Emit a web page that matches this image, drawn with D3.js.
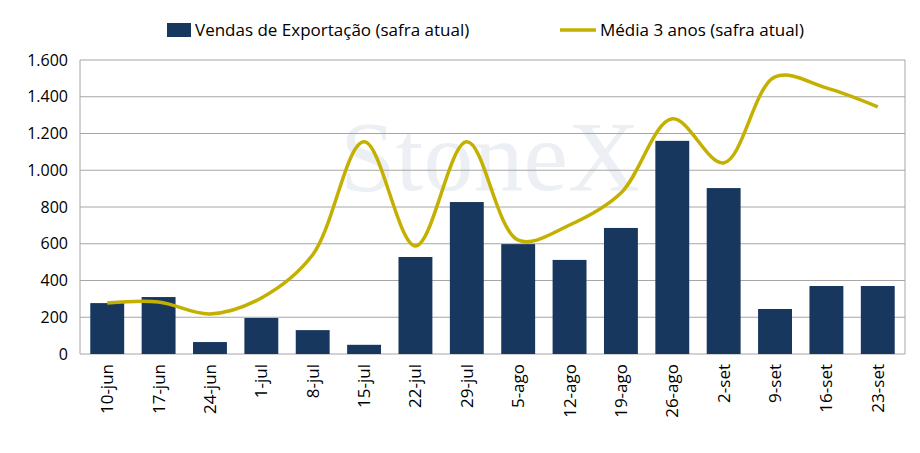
<!DOCTYPE html>
<html><head><meta charset="utf-8">
<script src="https://cdn.jsdelivr.net/npm/d3@7"></script>
<style>body{margin:0;background:#fff}</style>
</head><body>
<div id="chart"></div>
<script>
const categories = ["10-jun","17-jun","24-jun","1-jul","8-jul","15-jul","22-jul","29-jul","5-ago","12-ago","19-ago","26-ago","2-set","9-set","16-set","23-set"];
const vendas = [277, 310, 65, 196, 130, 50, 528, 827, 598, 512, 686, 1160, 903, 245, 370, 370];
const media3 = [277, 283, 218, 305, 540, 1155, 588, 1155, 620, 702, 876, 1280, 1040, 1508, 1448, 1345];
const yTicks = [0, 200, 400, 600, 800, 1000, 1200, 1400, 1600];

const width = 920, height = 453;
const margin = {left: 80, right: 15, top: 60, bottom: 99};
const fmt = d3.format(",");
const ptBR = d => fmt(d).replace(/,/g, ".");

const svg = d3.select("#chart").append("svg")
    .attr("width", width).attr("height", height)
    .style("font-family", "'Open Sans', Lato, sans-serif");

const x = d3.scaleBand().domain(categories)
    .range([margin.left, width - margin.right]).paddingInner(0.34).paddingOuter(0.2);
const y = d3.scaleLinear().domain([0, 1600]).range([height - margin.bottom, margin.top]);

// watermark
svg.append("text").attr("x", 490).attr("y", 190).attr("text-anchor", "middle")
    .attr("font-family", "Liberation Serif, serif").attr("font-size", 100)
    .attr("fill", "#eceff3").text("StoneX");

// grid
svg.append("g").selectAll("line").data(yTicks).join("line")
    .attr("x1", margin.left).attr("x2", width - margin.right)
    .attr("y1", d => y(d)).attr("y2", d => y(d))
    .attr("stroke", "#a6a6a6").attr("stroke-width", 1);
svg.append("line").attr("x1", margin.left).attr("x2", margin.left)
    .attr("y1", y(0)).attr("y2", y(1600)).attr("stroke", "#a6a6a6");
svg.append("line").attr("x1", width - margin.right).attr("x2", width - margin.right)
    .attr("y1", y(0)).attr("y2", y(1600)).attr("stroke", "#a6a6a6");

svg.append("g").selectAll("text").data(yTicks).join("text")
    .attr("x", margin.left - 12).attr("y", d => y(d)).attr("dy", "0.35em")
    .attr("text-anchor", "end").attr("font-size", 16).attr("fill", "#000")
    .text(ptBR);

// bars
svg.append("g").selectAll("rect").data(vendas).join("rect")
    .attr("x", (d, i) => x(categories[i])).attr("width", x.bandwidth())
    .attr("y", d => y(d)).attr("height", d => y(0) - y(d))
    .attr("fill", "#17375e");

// line
const line = d3.line()
    .x((d, i) => x(categories[i]) + x.bandwidth() / 2)
    .y(d => y(d))
    .curve(d3.curveCatmullRom.alpha(0.5));
svg.append("path").datum(media3).attr("d", line)
    .attr("fill", "none").attr("stroke", "#c4b000").attr("stroke-width", 3.5);

// x labels
svg.append("g").selectAll("text").data(categories).join("text")
    .attr("transform", d => `translate(${x(d) + x.bandwidth() / 2 + 6},${y(0) + 10}) rotate(-90)`)
    .attr("text-anchor", "end").attr("font-size", 17).attr("fill", "#000")
    .text(d => d);

// legend
const lg = svg.append("g").attr("font-size", 17);
lg.append("rect").attr("x", 167).attr("y", 23).attr("width", 24).attr("height", 14).attr("fill", "#17375e");
lg.append("text").attr("x", 195).attr("y", 30).attr("dy", "0.35em").text("Vendas de Exportação (safra atual)");
lg.append("line").attr("x1", 560).attr("x2", 596).attr("y1", 30).attr("y2", 30)
    .attr("stroke", "#c4b000").attr("stroke-width", 3.5);
lg.append("text").attr("x", 600).attr("y", 30).attr("dy", "0.35em").text("Média 3 anos (safra atual)");
</script>
</body></html>
